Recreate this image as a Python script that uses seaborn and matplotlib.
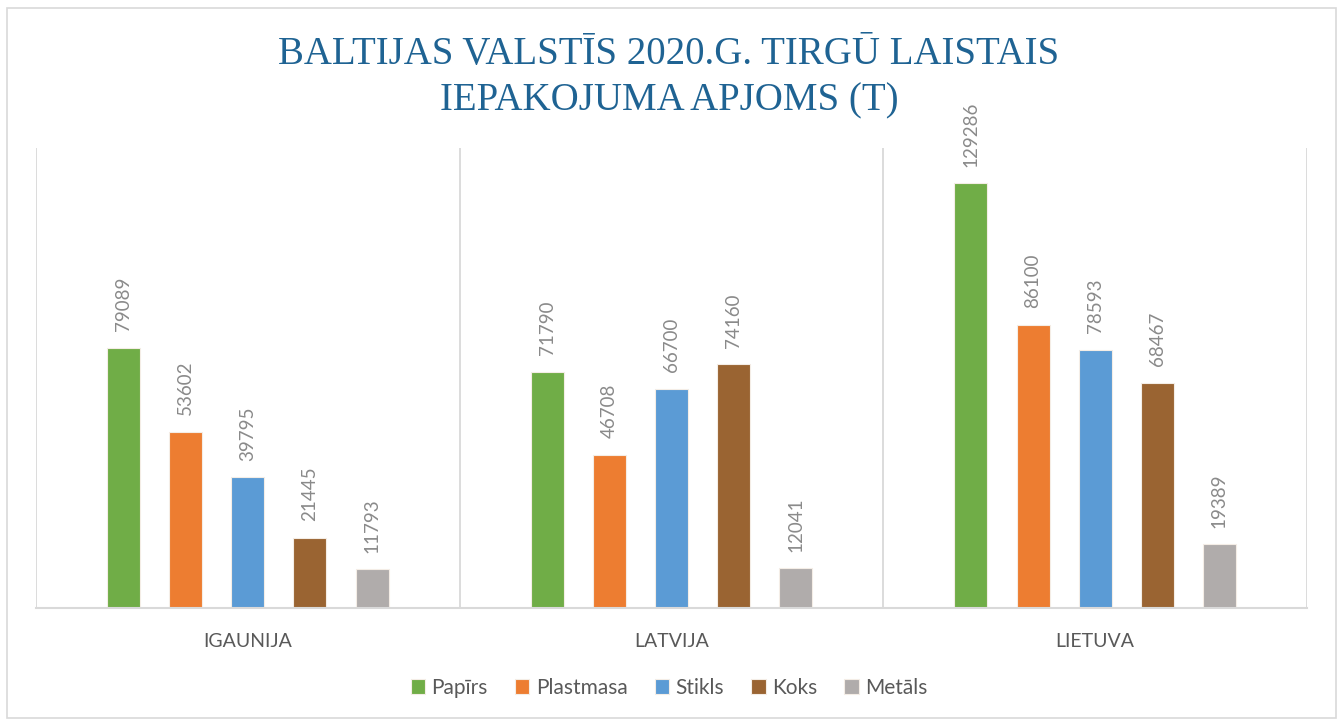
import matplotlib
matplotlib.use("Agg")
import matplotlib.pyplot as plt
import seaborn as sns
import pandas as pd
from matplotlib.patches import Rectangle

countries = ["IGAUNIJA", "LATVIJA", "LIETUVA"]
materials = ["Papīrs", "Plastmasa", "Stikls", "Koks", "Metāls"]
papirs = [79089, 71790, 129286]
plastmasa = [53602, 46708, 86100]
stikls = [39795, 66700, 78593]
koks = [21445, 74160, 68467]
metals = [11793, 12041, 19389]
colors = ["#70AD47", "#ED7D31", "#5B9BD5", "#9A6432", "#B0ACAB"]
title_lines = ["BALTIJAS VALSTĪS 2020.G. TIRGŪ LAISTAIS", "IEPAKOJUMA APJOMS (T)"]

series = [papirs, plastmasa, stikls, koks, metals]
rows = []
for m, vals in zip(materials, series):
    for c, v in zip(countries, vals):
        rows.append({"Valsts": c, "Materiāls": m, "Apjoms": v})
df = pd.DataFrame(rows)

sns.set_theme(style="white")
plt.rcParams['font.family'] = ['Lato', 'DejaVu Sans']

fig = plt.figure(figsize=(13.38, 7.19), dpi=100)
ax = fig.add_axes([36/1338, 1-608/719, (1307-36)/1338, (608-148)/719])

sns.barplot(data=df, x="Valsts", y="Apjoms", hue="Materiāls", order=countries,
            hue_order=materials, palette=colors, saturation=1, width=0.733, gap=0.47,
            edgecolor="#F4EDE6", linewidth=0.8, ax=ax, legend=True)

for cont in ax.containers:
    ax.bar_label(cont, fmt="%d", rotation=90, padding=12, color="#8A8A8A", fontsize=13.5)

ax.set_ylim(0, 140000)
ax.set_xlim(-0.5, len(countries) - 0.5)
ax.set_yticks([])
ax.set_xlabel("")
ax.set_ylabel("")
ax.set_xticks(range(len(countries)))
ax.set_xticklabels(countries, color="#595959", fontsize=14)
ax.tick_params(axis="x", length=0, pad=18)
bounds = [i - 0.5 for i in range(len(countries) + 1)]
ax.set_xticks(bounds, minor=True)
ax.tick_params(axis="x", which="minor", length=0)
ax.grid(True, axis="x", which="minor", color="#D9D9D9", linewidth=1.3)
ax.grid(False, axis="x", which="major")
for s in ["top", "right", "left"]:
    ax.spines[s].set_visible(False)
ax.spines["bottom"].set_color("#D9D9D9")
ax.spines["bottom"].set_linewidth(1.5)

for line, ybase in zip(title_lines, [64, 110]):
    fig.text(0.5, 1-ybase/719, line, ha="center", va="baseline", fontsize=28,
             family=["Liberation Serif", "DejaVu Serif"], color="#1F6393")

h, l = ax.get_legend_handles_labels()
ax.legend_.remove()
fig.legend(h, l, loc="center", bbox_to_anchor=(0.5, 1-688/719), ncol=5, frameon=False,
           fontsize=15, labelcolor="#595959", handlelength=0.7, handleheight=0.7,
           handletextpad=0.3, columnspacing=1.3)

fig.patches.append(Rectangle((7/1338, 1/719), 1329/1338, 710/719, transform=fig.transFigure,
                             fill=False, edgecolor="#D9D9D9", linewidth=1.2))

fig.savefig("out.png", dpi=100)
